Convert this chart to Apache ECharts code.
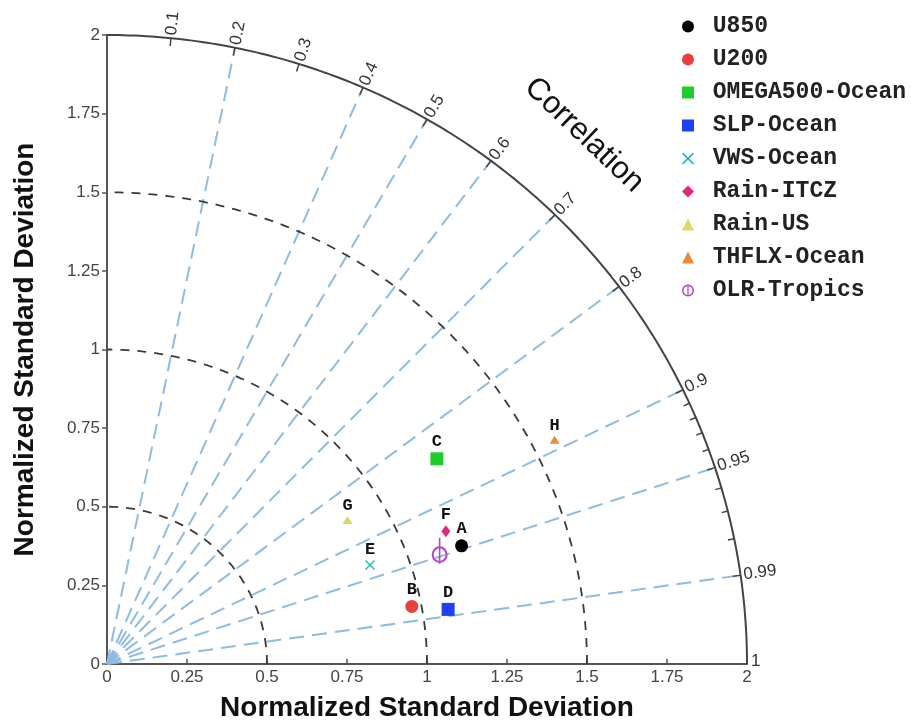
<!DOCTYPE html>
<html><head><meta charset="utf-8">
<script src="https://cdn.jsdelivr.net/npm/echarts@6/dist/echarts.min.js"></script>
<style>html,body{margin:0;padding:0;background:#fff}#c{width:911px;height:727px}</style>
</head><body><div id="c"></div>
<script>
// ---- data ----
const seriesNames = ['U850','U200','OMEGA500-Ocean','SLP-Ocean','VWS-Ocean','Rain-ITCZ','Rain-US','THFLX-Ocean','OLR-Tropics'];
const letters = ['A','B','C','D','E','F','G','H',''];
const stdDev = [1.17, 0.97, 1.22, 1.08, 0.88, 1.14, 0.88, 1.57, 1.10];
const corr = [0.947, 0.982, 0.845, 0.987, 0.934, 0.929, 0.854, 0.891, 0.945];
const corrLabelValues = [0.1,0.2,0.3,0.4,0.5,0.6,0.7,0.8,0.9,0.95,0.99,1];
const corrMinorTicks = [0.91,0.92,0.93,0.94,0.96,0.97,0.98];
const corrLines = [0.2,0.4,0.5,0.6,0.7,0.8,0.9,0.95,0.99];
const stdArcs = [0.5,1,1.5];
const stdMax = 2;

// ---- styles ----
const colors = ['#000000','#e8413c','#1fcc2a','#1f3ff0','#26b8b4','#e0287c','#dcd86a','#ea8a3c','#b044cc'];
const crossPath = 'path://M2,0L10,8L18,0L20,2L12,10L20,18L18,20L10,12L2,20L0,18L8,10L0,2Z';
const olrPath = 'path://M10,0A10,10 0 1,1 10,20A10,10 0 1,1 10,0Z M10,2.5A7.5,7.5 0 1,0 10,17.5A7.5,7.5 0 1,0 10,2.5Z M9,-10L11,-10L11,21L9,21Z';
const olrLegendPath = 'path://M10,0A10,10 0 1,1 10,20A10,10 0 1,1 10,0Z M10,2.5A7.5,7.5 0 1,0 10,17.5A7.5,7.5 0 1,0 10,2.5Z M9,1L11,1L11,19L9,19Z';
const symbols = ['circle','circle','rect','rect',crossPath,'diamond','triangle','triangle',olrPath];
const symbolSizes = [13,13,13,13,10,[9,12],[10,8],[10,8],[16,26]];
const sansFont = '"Liberation Sans", Arial, sans-serif';

function arcPoints(r){
  const pts=[];
  for(let i=0;i<=180;i++){const t=i/180*Math.PI/2;pts.push([r*Math.cos(t), r*Math.sin(t)]);}
  return pts;
}

const series = [];
corrLines.forEach(c=>{
  const s=Math.sqrt(1-c*c);
  series.push({type:'line', silent:true, symbol:'none', data:[[0,0],[stdMax*c, stdMax*s]],
    lineStyle:{color:'#8ebbe2', width:2, type:[15,8]}, z:1});
});
stdArcs.forEach(r=>{
  series.push({type:'line', silent:true, symbol:'none', data:arcPoints(r),
    lineStyle:{color:'#3a3a3a', width:1.8, type:[9,8]}, z:2});
});
series.push({type:'line', silent:true, symbol:'none', data:arcPoints(stdMax),
  lineStyle:{color:'#444', width:2}, z:3});
// correlation ticks + labels on outer arc
series.push({type:'custom', silent:true, z:4,
  data: corrLabelValues.map(v=>[v,0]),
  renderItem:(params, api)=>{
    const c=api.value(0); const s=Math.sqrt(Math.max(0,1-c*c)); const th=Math.acos(Math.min(1,c));
    const p1=api.coord([stdMax*c, stdMax*s]);
    const p0=api.coord([(stdMax-0.025)*c,(stdMax-0.025)*s]);
    const off=3;
    const tx=p1[0]+off*Math.cos(th), ty=p1[1]-off*Math.sin(th);
    const children=[];
    if(c<1) children.push({type:'line', shape:{x1:p0[0],y1:p0[1],x2:p1[0],y2:p1[1]}, style:{stroke:'#444', lineWidth:1.5}});
    children.push({type:'text', x: c===1? p1[0]+4 : tx, y: c===1? p1[1]-3 : ty, rotation: c===1?0:th,
      style:{text:String(c), x:0,y:0, align:'left', verticalAlign:'middle', fill:'#333', font:'17px '+sansFont}});
    return {type:'group', children};
  }
});
series.push({type:'custom', silent:true, z:4,
  data: corrMinorTicks.map(v=>[v,0]),
  renderItem:(params, api)=>{
    const c=api.value(0); const s=Math.sqrt(1-c*c);
    const p1=api.coord([stdMax*c, stdMax*s]);
    const p0=api.coord([(stdMax-0.02)*c,(stdMax-0.02)*s]);
    return {type:'line', shape:{x1:p0[0],y1:p0[1],x2:p1[0],y2:p1[1]}, style:{stroke:'#444', lineWidth:1.5}};
  }
});
seriesNames.forEach((n,i)=>{
  const c=corr[i], r=stdDev[i];
  series.push({type:'scatter', name:n, z:10,
    data:[[r*c, r*Math.sqrt(1-c*c)]],
    symbol:symbols[i], symbolSize:symbolSizes[i],
    itemStyle:{color:colors[i], opacity:1},
    label:{show: letters[i]!=='', position:'top', distance:2, formatter: ()=>letters[i],
      color:'#111', fontFamily:'"Liberation Mono", monospace', fontWeight:'bold', fontSize:17}
  });
});

const legendData = seriesNames.map((n,i)=> i===8 ? {name:n, icon:olrLegendPath} : {name:n});

const chart = echarts.init(document.getElementById('c'), null, {renderer:'canvas'});
chart.setOption({
  animation:false,
  backgroundColor:'#fff',
  grid:{left:107, right:164, top:35, bottom:61, containLabel:false},
  xAxis:{type:'value', min:0, max:stdMax, interval:0.25,
    name:'Normalized Standard Deviation', nameLocation:'middle', nameGap:30,
    nameTextStyle:{fontFamily:sansFont, fontWeight:'bold', fontSize:28, color:'#111'},
    axisLine:{lineStyle:{color:'#555', width:2}},
    axisTick:{inside:true, length:5, lineStyle:{color:'#555', width:1.5}},
    axisLabel:{color:'#444', fontSize:17, fontFamily:sansFont, margin:5},
    splitLine:{show:false}},
  yAxis:{type:'value', min:0, max:stdMax, interval:0.25,
    name:'Normalized Standard Deviation', nameLocation:'middle', nameGap:68,
    nameTextStyle:{fontFamily:sansFont, fontWeight:'bold', fontSize:28, color:'#111'},
    axisLine:{lineStyle:{color:'#555', width:2}},
    axisTick:{inside:false, length:5, lineStyle:{color:'#555', width:1.5}},
    axisLabel:{color:'#444', fontSize:17, fontFamily:sansFont, margin:7},
    splitLine:{show:false}},
  legend:{orient:'vertical', left:677, top:10, itemWidth:12, itemHeight:12, itemGap:10,
    data:legendData, formatter:n=>' '+n,
    textStyle:{fontFamily:'"Liberation Mono", monospace', fontWeight:'bold', fontSize:23, color:'#222', lineHeight:23}},
  graphic:[{type:'text', x:584, y:135, rotation:-0.76,
    style:{text:'Correlation', align:'center', verticalAlign:'middle', fill:'#111',
      font:'31px '+sansFont}}],
  series
});
</script>
</body></html>
